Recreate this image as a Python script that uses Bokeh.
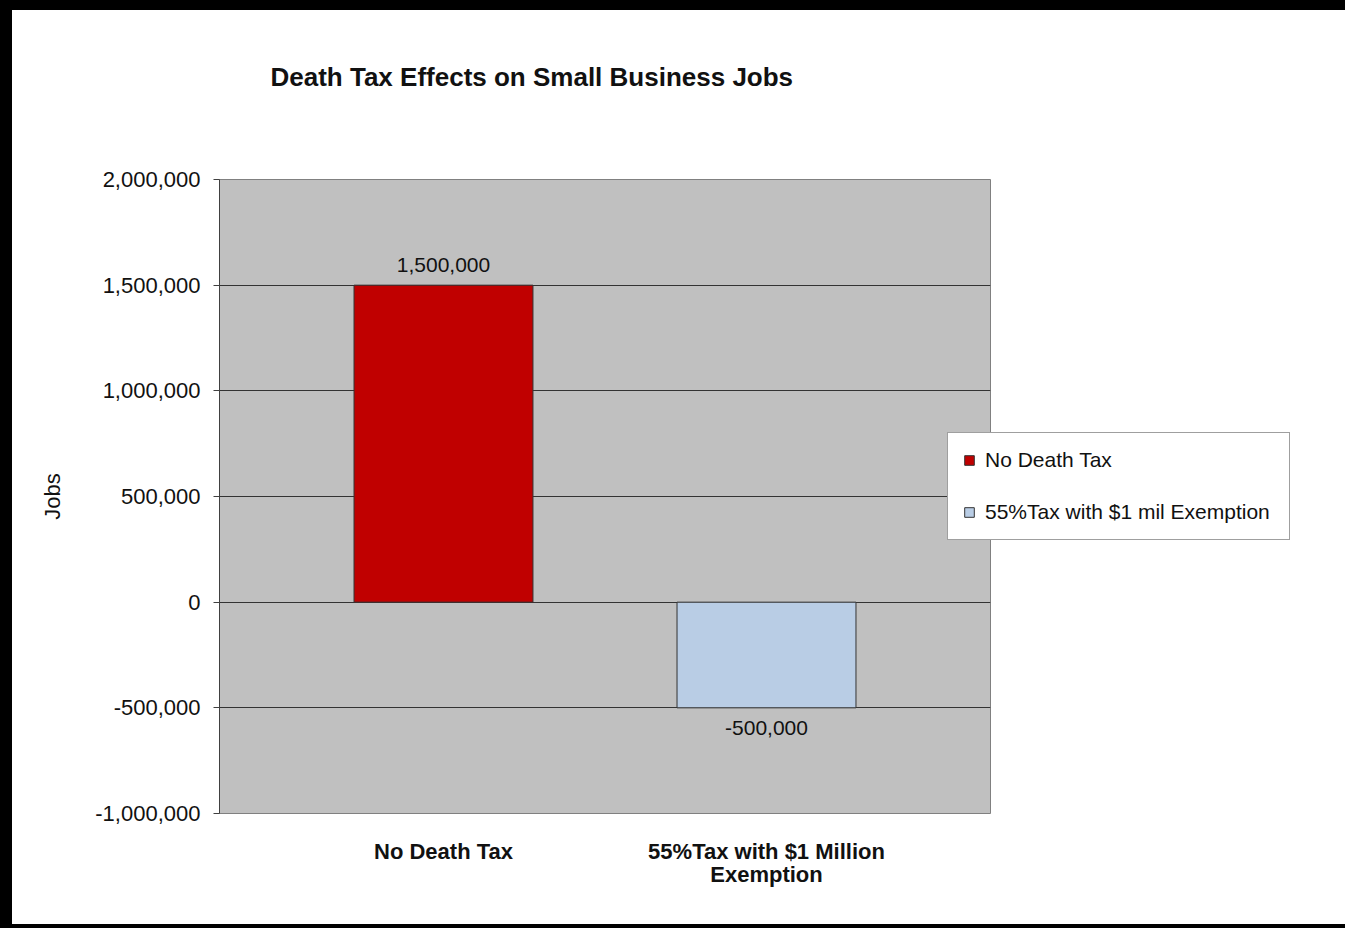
from bokeh.plotting import figure
from bokeh.models import (ColumnDataSource, FactorRange, Range1d, FixedTicker,
                          NumeralTickFormatter, Legend, LegendItem, LabelSet,
                          Title)
from bokeh.core.properties import value
from bokeh.embed import file_html
from bokeh.resources import INLINE

# ---- data ----
categories = ["No Death Tax", "55%Tax with $1 Million\nExemption"]
series_names = ["No Death Tax", "55%Tax with $1 mil Exemption"]
jobs = [1500000, -500000]
colors = ["#C00000", "#B9CDE5"]
y_ticks = [-1000000, -500000, 0, 500000, 1000000, 1500000, 2000000]

FONT = "Liberation Sans"
BL, BT, BR, BB = 12, 10, 12, 4       # CSS border widths (outside canvas)
CW, CH = 1319, 914                   # canvas size
FL, FR, FT, FB = 207, 978, 169, 803  # frame edges in canvas px

labels = ["{:,}".format(v) for v in jobs]
offsets = [20 if v >= 0 else -20 for v in jobs]

src = ColumnDataSource(dict(cat=categories, jobs=jobs, color=colors,
                            label=labels, yoff=offsets))

p = figure(width=CW, height=CH, frame_width=FR - FL, frame_height=FB - FT,
           output_backend="svg", toolbar_location=None,
           x_range=FactorRange(factors=categories, range_padding=0.1935,
                               range_padding_units="absolute"),
           y_range=Range1d(-1000000, 2000000),
           min_border_left=FL, min_border_right=CW - FR,
           min_border_top=FT, min_border_bottom=CH - FB)
p.styles = {"box-sizing": "content-box",
            "border-style": "solid", "border-color": "black",
            "border-width": f"{BT}px {BR}px {BB}px {BL}px"}

p.background_fill_color = "#C0C0C0"
p.border_fill_color = "white"
p.outline_line_color = "#808080"
p.outline_line_width = 1

# real title (outermost) and a blank white spacer between it and the frame
p.title = Title(text="Death Tax Effects on Small Business Jobs", align="left",
                offset=51, standoff=10, text_font=FONT, text_font_size="26px",
                text_font_style="bold", text_color="#111111")
p.add_layout(Title(text=" ", text_font_size="10px", text_color="white",
                   standoff=70), "above")

renderers = []
for i in range(len(categories)):
    s = ColumnDataSource(dict(cat=[categories[i]], jobs=[jobs[i]]))
    r = p.vbar(x="cat", top="jobs", bottom=0, width=0.554, source=s,
               fill_color=colors[i], line_color="#333333", line_width=1)
    renderers.append(r)

lbl = LabelSet(x="cat", y="jobs", text="label", y_offset="yoff", source=src,
               text_align="center", text_baseline="middle",
               text_font=value(FONT), text_font_size="21px",
               text_color="#111111")
p.add_layout(lbl)

# axes
p.yaxis.ticker = FixedTicker(ticks=y_ticks)
p.yaxis.formatter = NumeralTickFormatter(format="0,0")
p.yaxis.major_label_text_font = FONT
p.yaxis.major_label_text_font_size = "22px"
p.yaxis.major_label_text_color = "#111111"
p.yaxis.major_tick_out = 6
p.yaxis.major_tick_in = 0
p.yaxis.minor_tick_line_color = None
p.yaxis.major_tick_line_color = "#404040"
p.yaxis.axis_line_color = "#404040"
p.yaxis.major_label_standoff = 13
p.yaxis.axis_label = "Jobs"
p.yaxis.axis_label_text_font = FONT
p.yaxis.axis_label_text_font_size = "22px"
p.yaxis.axis_label_text_font_style = "normal"
p.yaxis.axis_label_text_color = "#111111"
p.yaxis.axis_label_standoff = 27

p.xaxis.axis_line_color = None
p.xaxis.major_tick_line_color = None
p.xaxis.minor_tick_line_color = None
p.xaxis.major_label_text_font = FONT
p.xaxis.major_label_text_font_size = "22px"
p.xaxis.major_label_text_font_style = "bold"
p.xaxis.major_label_text_line_height = 0.95
p.xaxis.major_label_text_color = "#111111"
p.xaxis.major_label_standoff = 19

p.xgrid.grid_line_color = None
p.ygrid.ticker = FixedTicker(ticks=y_ticks)
p.ygrid.grid_line_color = "#333333"
p.ygrid.grid_line_width = 1

# legend (in right panel, shifted back over the frame edge)
legend = Legend(items=[LegendItem(label=series_names[i], renderers=[renderers[i]])
                       for i in range(len(series_names))],
                location=(-43, 273), orientation="vertical",
                padding=15, spacing=28, margin=0,
                glyph_width=12, glyph_height=12, label_height=24,
                label_width=289, label_standoff=10,
                label_text_font=FONT, label_text_font_size="21px",
                label_text_color="#111111",
                border_line_color="#404040", border_line_width=1,
                background_fill_color="white", background_fill_alpha=1)
p.add_layout(legend, "right")

open("out.html", "w").write(file_html(p, INLINE))
